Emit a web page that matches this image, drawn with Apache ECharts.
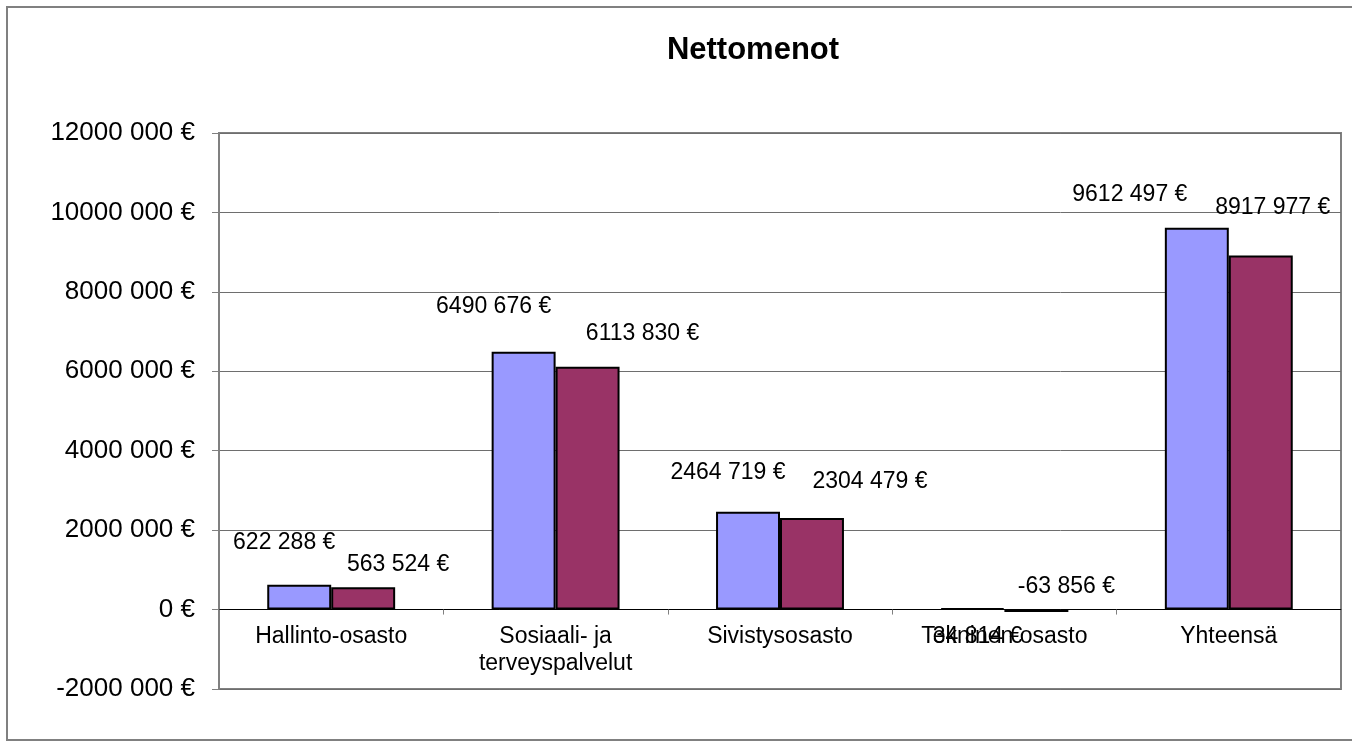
<!DOCTYPE html>
<html>
<head>
<meta charset="utf-8">
<script src="https://cdn.jsdelivr.net/npm/echarts@6/dist/echarts.min.js"></script>
<style>
html,body{margin:0;padding:0;background:#fff;}
#chart{width:1352px;height:747px;}
</style>
</head>
<body>
<div id="chart"></div>
<script>
// ---- data ----
const categories = ['Hallinto-osasto', 'Sosiaali- ja\nterveyspalvelut', 'Sivistysosasto', 'Tekninen osasto', 'Yhteensä'];
const series1Values = [622288, 6490676, 2464719, 34814, 9612497];
const series2Values = [563524, 6113830, 2304479, -63856, 8917977];
const yTicks = { min: -2000000, max: 12000000, interval: 2000000 };
const titleText = 'Nettomenot';

// ---- label layout (not data) ----
const labelShift1 = [[-15, -30], [-30, -33], [-20, -27], [5, 41], [-67, -21]];
const labelShift2 = [[35, -11], [55, -21], [58, -24], [30, -11], [12, -36]];

function fmt(v) {
  const neg = v < 0;
  const n = Math.abs(Math.round(v));
  let s;
  if (n >= 1000) {
    const rest = String(n % 1000).padStart(3, '0');
    s = Math.floor(n / 1000) + ' ' + rest;
  } else {
    s = String(n);
  }
  return (neg ? '-' : '') + s + ' €';
}

const FONT = "'Liberation Sans', Arial, sans-serif";
const FS = 23;
const GRID_TOP = 133, GRID_H = 556;
// pixel distance from grid bottom up to the zero line (layout only)
const zeroShift = GRID_H * (0 - yTicks.min) / (yTicks.max - yTicks.min);

function buildData(values, shifts) {
  return values.map((v, i) => ({
    value: v,
    label: { offset: shifts[i] }
  }));
}

const chart = echarts.init(document.getElementById('chart'));
chart.setOption({
  animation: false,
  backgroundColor: '#fff',
  title: {
    text: titleText,
    left: 748,
    top: 30,
    textAlign: 'center',
    textStyle: { fontFamily: FONT, fontSize: 31, fontWeight: 'bold', color: '#000' }
  },
  graphic: [{
    type: 'rect',
    shape: { x: 7, y: 7, width: 1400, height: 733 },
    style: { fill: 'none', stroke: '#808080', lineWidth: 2 },
    silent: true,
    z: -1
  }],
  grid: {
    left: 219, right: 11, top: GRID_TOP, height: GRID_H,
    outerBoundsMode: 'none',
    containLabel: false,
    show: true, borderColor: '#808080', borderWidth: 2, backgroundColor: 'transparent'
  },
  xAxis: {
    type: 'category',
    data: categories,
    position: 'bottom',
    offset: -zeroShift,
    axisLine: { onZero: false, lineStyle: { color: '#000', width: 1 } },
    axisTick: { show: true, alignWithLabel: false, length: 5, lineStyle: { color: '#808080' } },
    axisLabel: { fontFamily: FONT, fontSize: FS, color: '#000', margin: 14, lineHeight: 27, interval: 0 },
    splitLine: { show: false }
  },
  yAxis: {
    type: 'value',
    min: yTicks.min,
    max: yTicks.max,
    interval: yTicks.interval,
    axisLine: { show: true, lineStyle: { color: '#808080', width: 2 } },
    axisTick: { show: true, length: 7, lineStyle: { color: '#808080' } },
    axisLabel: { fontFamily: FONT, fontSize: 26, color: '#000', margin: 24, formatter: fmt },
    splitLine: { show: true, lineStyle: { color: '#6e6e6e', width: 1 } }
  },
  series: [
    {
      type: 'bar',
      data: buildData(series1Values, labelShift1),
      barGap: '0%',
      barCategoryGap: '43%',
      itemStyle: { color: '#9999FF', borderColor: '#000', borderWidth: 2 },
      label: {
        show: true, position: 'top', distance: 0,
        fontFamily: FONT, fontSize: FS, color: '#000', lineHeight: 24,
        formatter: p => fmt(p.value)
      }
    },
    {
      type: 'bar',
      data: buildData(series2Values, labelShift2),
      barGap: '0%',
      barCategoryGap: '43%',
      itemStyle: { color: '#993366', borderColor: '#000', borderWidth: 2 },
      label: {
        show: true, position: 'top', distance: 0,
        fontFamily: FONT, fontSize: FS, color: '#000', lineHeight: 24,
        formatter: p => fmt(p.value)
      }
    }
  ]
});
</script>
</body>
</html>
